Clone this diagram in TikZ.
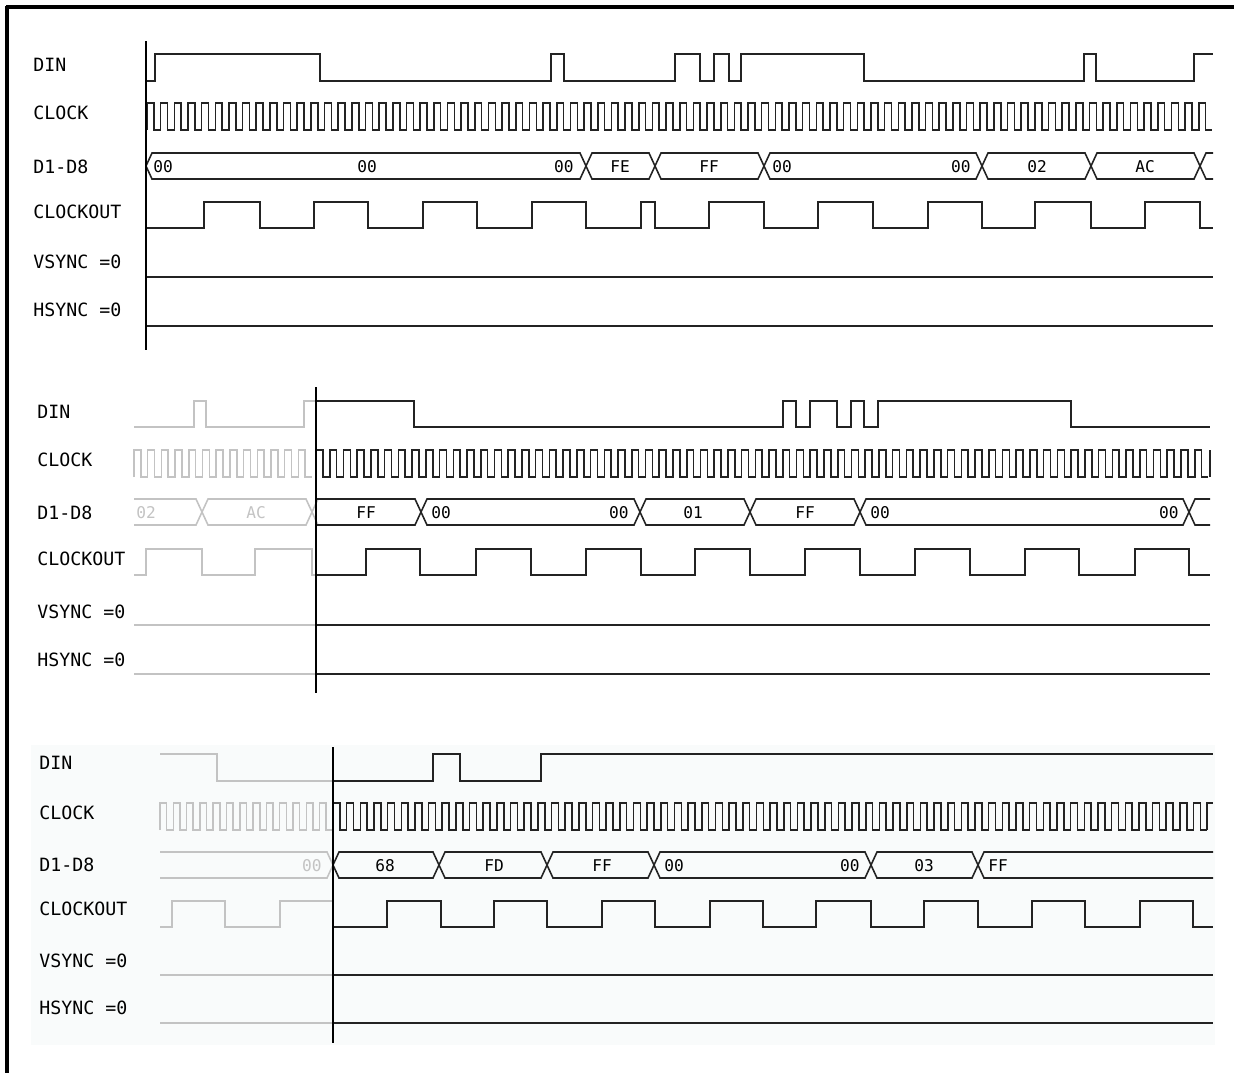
\documentclass[tikz,border=0pt]{standalone}
\usepackage{fontspec}
\setmonofont{DejaVu Sans Mono}
\definecolor{ghostgray}{RGB}{195,195,195}
\definecolor{panelbg}{RGB}{249,251,251}
\definecolor{traceblack}{RGB}{35,35,35}
\tikzset{
	wave/.style={line width=0.9pt, color=traceblack},
	ghost/.style={line width=0.9pt, color=ghostgray},
	siglabel/.style={anchor=west, inner sep=0pt, font=\ttfamily\fontsize{10.4}{12}\selectfont},
	buslabel/.style={inner sep=0pt, font=\ttfamily\fontsize{9.2}{10}\selectfont},
}
\def\clockline[#1](#2,#3)(#4:#5){\draw[#1] (#2,#3+27) \foreach \k in {1,...,#4}{ -- ++(0,-27) -- ++(#5/2,0) -- ++(0,27) -- ++(#5/2,0)};}
\def\busseg[#1](#2:#3)(#4){\draw[#1] (#2,#4) -- (#2+6,#4-13) -- (#3-6,#4-13) -- (#3,#4) -- (#3-6,#4+13) -- (#2+6,#4+13) -- cycle;}
\def\busleft[#1](#2:#3)(#4){\draw[#1] (#2,#4-13) -- (#3-6,#4-13) -- (#3,#4) -- (#3-6,#4+13) -- (#2,#4+13);}
\def\busright[#1](#2:#3)(#4){\draw[#1] (#3,#4-13) -- (#2+6,#4-13) -- (#2,#4) -- (#2+6,#4+13) -- (#3,#4+13);}

\begin{document}
\begin{tikzpicture}[x=0.02cm, y=-0.02cm]
			%%%%% START %%%%%
			\useasboundingbox (0,0) rectangle (1234,1073);
			
			% frame
			\draw[line width=1.9pt] (6,7) -- (1234,7);
			\draw[line width=1.9pt] (7,6) -- (7,1073);
			
			%%%%% PANEL 1 %%%%%
			\node[siglabel] (din1) at (33,65) {DIN};
			\node[siglabel] (clk1) at (33,113) {CLOCK};
			\node[siglabel] (bus1) at (33,167) {D1-D8};
			\node[siglabel] (cko1) at (33,212) {CLOCKOUT};
			\node[siglabel] (vs1) at (33,262) {VSYNC =0};
			\node[siglabel] (hs1) at (33,310) {HSYNC =0};
			
			\draw[wave] (146,81) -| (155,54) -| (320,81) -| (551,54) -| (564,81) -| (675,54) -| (700,81) -| (714,54) -| (729,81) -| (741,54) -| (864,81) -| (1084,54) -| (1096,81) -| (1194,54) -- (1213,54);
			
			\clockline[wave](147,103)(78:13.66)
			
			\busseg[wave](146:586)(166)
			\busseg[wave](586:655)(166)
			\busseg[wave](655:764)(166)
			\busseg[wave](764:982)(166)
			\busseg[wave](982:1091)(166)
			\busseg[wave](1091:1200)(166)
			\busright[wave](1200:1213)(166)
			\node[buslabel, anchor=west] (b1a) at (153,167) {00};
			\node[buslabel] (b1b) at (367,167) {00};
			\node[buslabel, anchor=east] (b1c) at (574,167) {00};
			\node[buslabel] (b1d) at (620,167) {FE};
			\node[buslabel] (b1e) at (709,167) {FF};
			\node[buslabel, anchor=west] (b1f) at (772,167) {00};
			\node[buslabel, anchor=east] (b1g) at (971,167) {00};
			\node[buslabel] (b1h) at (1037,167) {02};
			\node[buslabel] (b1i) at (1145,167) {AC};
			
			\draw[wave] (146,228) -| (204,202) -| (260,228) -| (314,202) -| (368,228) -| (423,202) -| (477,228) -| (532,202) -| (586,228) -| (641,202) -| (655,228) -| (709,202) -| (764,228) -| (818,202) -| (873,228) -| (928,202) -| (982,228) -| (1035,202) -| (1091,228) -| (1145,202) -| (1200,228) -- (1213,228);
			
			\draw[wave] (146,277) -- (1213,277);
			\draw[wave] (146,326) -- (1213,326);
			
			\draw[line width=1.7pt] (146,41) -- (146,350);
			
			%%%%% PANEL 2 %%%%%
			\node[siglabel] (din2) at (37,412) {DIN};
			\node[siglabel] (clk2) at (37,460) {CLOCK};
			\node[siglabel] (bus2) at (37,513) {D1-D8};
			\node[siglabel] (cko2) at (37,559) {CLOCKOUT};
			\node[siglabel] (vs2) at (37,612) {VSYNC =0};
			\node[siglabel] (hs2) at (37,660) {HSYNC =0};
			
			% history
			\draw[ghost] (134,427) -| (194,401) -| (206,427) -| (304,401) -- (316,401);
			\clockline[ghost](134,450)(13:13.7)
			\busleft[ghost](134:202)(512)
			\busseg[ghost](202:312)(512)
			\busright[ghost](312:316)(512)
			\node[buslabel, anchor=west, color=ghostgray] (b2a) at (136,513) {02};
			\node[buslabel, color=ghostgray] (b2b) at (256,513) {AC};
			\draw[ghost] (134,575) -| (146,549) -| (202,575) -| (255,549) -| (312,575) -- (316,575);
			\draw[ghost] (134,625) -- (316,625);
			\draw[ghost] (134,674) -- (316,674);
			
			\draw[wave] (316,401) -| (414,427) -| (783,401) -| (796,427) -| (810,401) -| (837,427) -| (851,401) -| (864,427) -| (878,401) -| (1071,427) -- (1210,427);
			
			\clockline[wave](316,450)(65:13.73)
			\draw[traceblack, line width=1.6pt] (1210,450) -- (1210,477);
			
			\busleft[wave](316:421)(512)
			\busseg[wave](421:640)(512)
			\busseg[wave](640:750)(512)
			\busseg[wave](750:860)(512)
			\busseg[wave](860:1189)(512)
			\busright[wave](1189:1210)(512)
			\node[buslabel] (b2c) at (366,513) {FF};
			\node[buslabel, anchor=west] (b2d) at (431,513) {00};
			\node[buslabel, anchor=east] (b2e) at (629,513) {00};
			\node[buslabel] (b2f) at (693,513) {01};
			\node[buslabel] (b2g) at (805,513) {FF};
			\node[buslabel, anchor=west] (b2h) at (870,513) {00};
			\node[buslabel, anchor=east] (b2i) at (1179,513) {00};
			
			\draw[wave] (316,575) -| (366,549) -| (420,575) -| (476,549) -| (531,575) -| (586,549) -| (641,575) -| (695,549) -| (750,575) -| (805,549) -| (860,575) -| (915,549) -| (970,575) -| (1025,549) -| (1079,575) -| (1135,549) -| (1189,575) -- (1210,575);
			
			\draw[wave] (316,625) -- (1210,625);
			\draw[wave] (316,674) -- (1210,674);
			
			\draw[line width=0.9pt] (316,387) -- (316,693);
			
			%%%%% PANEL 3 %%%%%
			\fill[panelbg] (31,745) rectangle (1215,1045);
			
			\node[siglabel] (din3) at (39,763) {DIN};
			\node[siglabel] (clk3) at (39,813) {CLOCK};
			\node[siglabel] (bus3) at (39,865) {D1-D8};
			\node[siglabel] (cko3) at (39,909) {CLOCKOUT};
			\node[siglabel] (vs3) at (39,961) {VSYNC =0};
			\node[siglabel] (hs3) at (39,1008) {HSYNC =0};
			
			% history
			\draw[ghost] (160,754) -| (217,781) -- (333,781);
			\clockline[ghost](160,803)(13:13.3)
			\busleft[ghost](160:333)(865)
			\node[buslabel, anchor=east, color=ghostgray] (b3a) at (322,866) {00};
			\draw[ghost] (160,927) -| (172,901) -| (225,927) -| (280,901) -- (333,901);
			\draw[ghost] (160,975) -- (333,975);
			\draw[ghost] (160,1023) -- (333,1023);
			
			\draw[wave] (333,781) -| (433,754) -| (460,781) -| (541,754) -- (1213,754);
			
			\clockline[wave](333,803)(64:13.66)
			\draw[wave] (1207,830) |- (1213,803);
			
			\busseg[wave](333:439)(865)
			\busseg[wave](439:547)(865)
			\busseg[wave](547:654)(865)
			\busseg[wave](654:871)(865)
			\busseg[wave](871:978)(865)
			\busright[wave](978:1213)(865)
			\node[buslabel] (b3b) at (385,866) {68};
			\node[buslabel] (b3c) at (494,866) {FD};
			\node[buslabel] (b3d) at (602,866) {FF};
			\node[buslabel, anchor=west] (b3e) at (664,866) {00};
			\node[buslabel, anchor=east] (b3f) at (860,866) {00};
			\node[buslabel] (b3g) at (924,866) {03};
			\node[buslabel, anchor=west] (b3h) at (988,866) {FF};
			
			\draw[wave] (333,927) -| (387,901) -| (441,927) -| (494,901) -| (547,927) -| (602,901) -| (655,927) -| (710,901) -| (763,927) -| (816,901) -| (871,927) -| (924,901) -| (978,927) -| (1032,901) -| (1085,927) -| (1140,901) -| (1193,927) -- (1213,927);
			
			\draw[wave] (333,975) -- (1213,975);
			\draw[wave] (333,1023) -- (1213,1023);
			
			\draw[line width=0.9pt] (333,747) -- (333,1043);
			
			%%%%% END %%%%%
\end{tikzpicture}
\end{document}
